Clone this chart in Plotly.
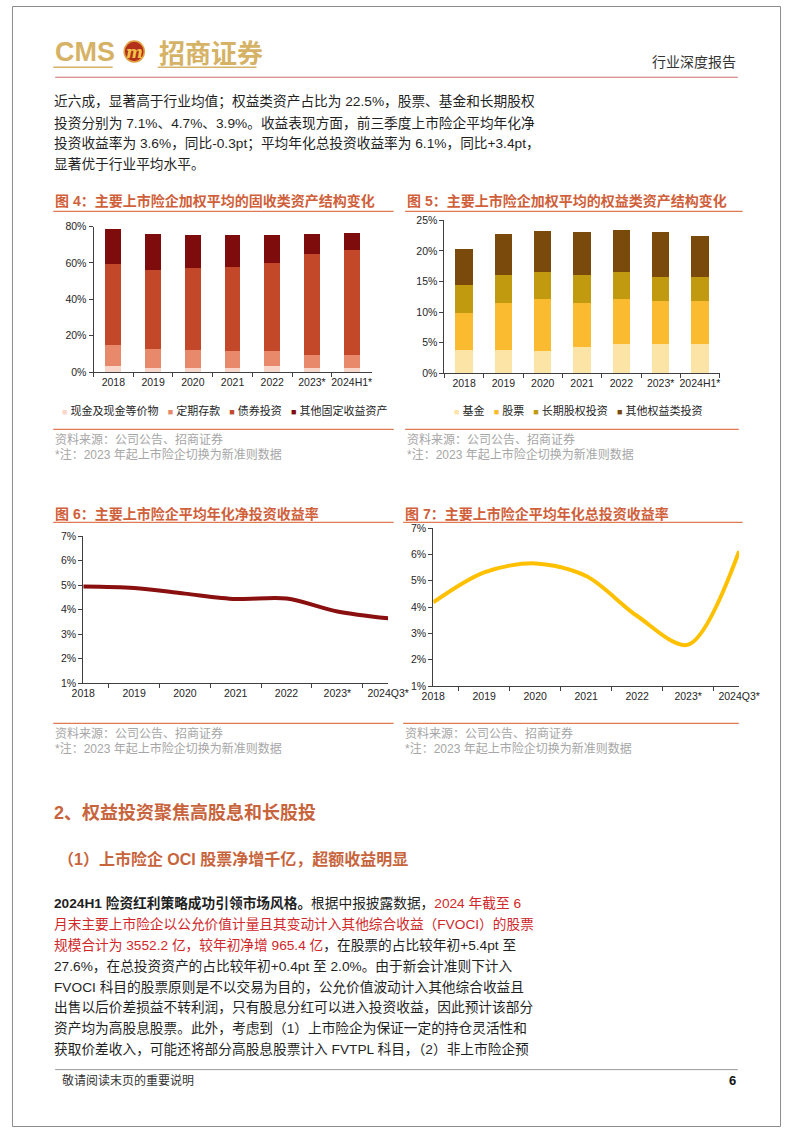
import plotly.graph_objects as go

W, H = 802, 1133

# ---------------- data ----------------
years_a = ["2018", "2019", "2020", "2021", "2022", "2023*", "2024H1*"]
fixed_names = ["现金及现金等价物", "定期存款", "债券投资", "其他固定收益资产"]
fixed_cash = [3.1, 2.5, 2.2, 2.0, 3.1, 2.2, 2.2]
fixed_deposit = [12.0, 10.4, 10.0, 9.5, 8.7, 7.3, 7.1]
fixed_bond = [44.4, 43.5, 44.9, 46.3, 48.0, 55.6, 57.8]
fixed_other = [19.0, 19.6, 18.5, 17.8, 15.5, 10.7, 9.3]
fixed_colors = ["#F9D6CA", "#E8896B", "#C3482A", "#7E0C0C"]

equity_names = ["基金", "股票", "长期股权投资", "其他权益类投资"]
eq_fund = [3.8, 3.7, 3.6, 4.2, 4.8, 4.75, 4.7]
eq_stock = [6.0, 7.7, 8.5, 7.3, 7.35, 7.05, 7.1]
eq_lte = [4.65, 4.6, 4.5, 4.5, 4.45, 4.0, 3.9]
eq_other = [5.8, 6.8, 6.7, 7.1, 6.8, 7.25, 6.8]
equity_colors = ["#FCE3A6", "#FABB30", "#C29A10", "#7A4A0C"]

years_b = ["2018", "2019", "2020", "2021", "2022", "2023*", "2024Q3*"]
net_yield = [4.94, 4.88, 4.65, 4.43, 4.45, 3.92, 3.64]
total_yield = [4.18, 5.32, 5.66, 5.18, 3.66, 2.57, 6.12]

# ---------------- helpers ----------------
def px(x):
    return x / W

def py(y):
    return 1 - y / H

FONT_LAT = "Liberation Sans, Arial, Noto Sans CJK SC, sans-serif"
FONT_CJK = "Liberation Sans, Noto Sans CJK SC, sans-serif"
TITLE_C = "#D0603A"
LINE_C = "#E07A50"
GREY = "#A6A6A6"
RED = "#D0282A"
TXT = "#1F1F1F"
GOLD = "#D6B266"

fig = go.Figure()
annotations = []
shapes = []

def text(x, y, s, size=14, color=TXT, anchor="left", family=FONT_CJK, yanchor="middle"):
    annotations.append(dict(x=px(x), y=py(y), xref="paper", yref="paper", text=s,
                            showarrow=False, xanchor=anchor, yanchor=yanchor,
                            font=dict(size=size, color=color, family=family)))

def hline(x0, x1, y, color, width=1):
    shapes.append(dict(type="line", xref="paper", yref="paper", x0=px(x0), x1=px(x1),
                       y0=py(y), y1=py(y), line=dict(color=color, width=width)))

# ---------------- charts ----------------
for vals, name, col in zip([fixed_cash, fixed_deposit, fixed_bond, fixed_other], fixed_names, fixed_colors):
    fig.add_trace(go.Bar(x=years_a, y=vals, name=name, marker=dict(color=col, line=dict(width=0)),
                         width=0.4, xaxis="x", yaxis="y", showlegend=False))
for vals, name, col in zip([eq_fund, eq_stock, eq_lte, eq_other], equity_names, equity_colors):
    fig.add_trace(go.Bar(x=years_a, y=vals, name=name, marker=dict(color=col, line=dict(width=0)),
                         width=0.44, xaxis="x2", yaxis="y2", showlegend=False))
fig.add_trace(go.Scatter(x=years_b, y=net_yield, mode="lines", line=dict(color="#8A0F0F", width=4, shape="spline", smoothing=0.9),
                         xaxis="x3", yaxis="y3", showlegend=False))
fig.add_trace(go.Scatter(x=years_b, y=total_yield, mode="lines", line=dict(color="#FFC000", width=4, shape="spline", smoothing=0.9),
                         xaxis="x4", yaxis="y4", showlegend=False))

axis_common = dict(showline=True, linecolor="#404040", linewidth=1, ticks="outside", ticklen=4,
                   tickcolor="#404040", showgrid=False, zeroline=False,
                   tickfont=dict(family=FONT_LAT, size=10.5, color="#262626"), fixedrange=True)

def xax(x0, x1, anchor):
    d = dict(axis_common)
    d.update(domain=[px(x0), px(x1)], anchor=anchor, type="category", tickson="boundaries", tickangle=0)
    return d

def yax(y_top, y_bot, anchor, rng, dtick):
    d = dict(axis_common)
    d.update(domain=[py(y_bot), py(y_top)], anchor=anchor, range=rng, dtick=dtick, ticksuffix="%")
    return d

layout_axes = dict(
    xaxis=xax(85, 375, "y"), yaxis=yax(223, 370, "x", [0, 80], 20),
    xaxis2=xax(451, 738, "y2"), yaxis2=yax(216.7, 371, "x2", [0, 25], 5),
    xaxis3=xax(74.3, 392.3, "y3"), yaxis3=yax(535.7, 684.3, "x3", [1, 7], 1),
    xaxis4=xax(439.3, 758.3, "y4"), yaxis4=yax(527.7, 687.3, "x4", [1, 7], 1),
)

# ---------------- legends (text) ----------------
def legend_text(names, colors):
    parts = []
    for n, c in zip(names, colors):
        parts.append(f'<span style="color:{c};font-size:9px">■</span> {n}')
    return "   ".join(parts)

text(222, 409, legend_text(fixed_names, fixed_colors), size=11, color="#262626", anchor="center")
text(591, 409, legend_text(equity_names, equity_colors), size=11, color="#262626", anchor="center")

# ---------------- header ----------------
shapes.append(dict(type="rect", xref="paper", yref="paper", x0=px(0.5), x1=px(801.5), y0=py(1132.5), y1=py(0.5),
                   line=dict(color="#8C8C8C", width=1)))
text(43, 46, "<b>CMS</b>", size=27, color=GOLD, family="Liberation Sans, Arial")
shapes.append(dict(type="circle", xref="paper", yref="paper", x0=px(117), x1=px(138), y0=py(56.5), y1=py(35.5),
                   fillcolor="#B3301B", line=dict(color="#E0A040", width=1.5)))
text(127.5, 46.5, "<b><i>m</i></b>", size=16, color="#F2C24A", anchor="center", family="DejaVu Serif, serif")
text(151, 46, "<b>招商证券</b>", size=26, color=GOLD, family="Noto Sans CJK SC")
hline(43, 105, 62, GOLD, 1.5)
hline(152, 255, 62, GOLD, 1.5)
text(757, 57, "行业深度报告", size=14, color="#333333", anchor="right")
hline(45, 757, 72, "#CC7070", 1)

# ---------------- top paragraph ----------------
top_lines = [
    "近六成，显著高于行业均值；权益类资产占比为 22.5%，股票、基金和长期股权",
    "投资分别为 7.1%、4.7%、3.9%。收益表现方面，前三季度上市险企平均年化净",
    "投资收益率为 3.6%，同比-0.3pt；平均年化总投资收益率为 6.1%，同比+3.4pt，",
    "显著优于行业平均水平。",
]
for i, s in enumerate(top_lines):
    text(42, 97 + 21 * i, s, size=13.7)

# ---------------- figure titles & sources ----------------
text(43, 197.5, "<b>图 4：主要上市险企加权平均的固收类资产结构变化</b>", size=14, color=TITLE_C)
hline(43, 398, 207.5, LINE_C, 1.3)
text(410, 197.5, "<b>图 5：主要上市险企加权平均的权益类资产结构变化</b>", size=14, color=TITLE_C)
hline(410, 762, 207.5, LINE_C, 1.3)
text(43, 513, "<b>图 6：主要上市险企平均年化净投资收益率</b>", size=14, color=TITLE_C)
hline(43, 398, 522, LINE_C, 1.3)
text(408, 513, "<b>图 7：主要上市险企平均年化总投资收益率</b>", size=14, color=TITLE_C)
hline(408, 762, 522, LINE_C, 1.3)

src = "资料来源：公司公告、招商证券"
note = "*注：2023 年起上市险企切换为新准则数据"
for (x0, x1, ly, t1) in [(43, 398, 428, 438), (410, 758, 428, 438), (43, 398, 725, 735), (408, 758, 725, 735)]:
    hline(x0, x1, ly, LINE_C, 1.3)
    text(x0, t1, src, size=12, color=GREY)
    text(x0, t1 + 15.5, note, size=12, color=GREY)

# ---------------- section headings ----------------
text(42, 815.5, "<b>2、权益投资聚焦高股息和长股投</b>", size=18, color="#C8643C")
text(46, 862, "<b>（1）上市险企 OCI 股票净增千亿，超额收益明显</b>", size=16, color="#C8643C")

def red(s):
    return f'<span style="color:{RED}">{s}</span>'

body_lines = [
    "<b>2024H1 险资红利策略成功引领市场风格。</b>根据中报披露数据，" + red("2024 年截至 6"),
    red("月末主要上市险企以公允价值计量且其变动计入其他综合收益（FVOCI）的股票"),
    red("规模合计为 3552.2 亿，较年初净增 965.4 亿") + "，在股票的占比较年初+5.4pt 至",
    "27.6%，在总投资资产的占比较年初+0.4pt 至 2.0%。由于新会计准则下计入",
    "FVOCI 科目的股票原则是不以交易为目的，公允价值波动计入其他综合收益且",
    "出售以后价差损益不转利润，只有股息分红可以进入投资收益，因此预计该部分",
    "资产均为高股息股票。此外，考虑到（1）上市险企为保证一定的持仓灵活性和",
    "获取价差收入，可能还将部分高股息股票计入 FVTPL 科目，（2）非上市险企预",
]
for i, s in enumerate(body_lines):
    text(42, 907 + 21 * i, s, size=13.7)

# ---------------- footer ----------------
hline(45, 757, 1075, "#999999", 1)
text(50, 1086, "敬请阅读末页的重要说明", size=12, color="#333333")
text(757, 1086, "<b>6</b>", size=13, color="#111111", anchor="right", family="Liberation Sans, Arial")

fig.update_layout(
    width=W, height=H, autosize=False,
    margin=dict(l=0, r=0, t=0, b=0),
    paper_bgcolor="white", plot_bgcolor="white",
    barmode="stack", showlegend=False,
    annotations=annotations, shapes=shapes,
    font=dict(family=FONT_CJK),
    **layout_axes,
)

fig.write_html("out.html", config={"displayModeBar": False})
